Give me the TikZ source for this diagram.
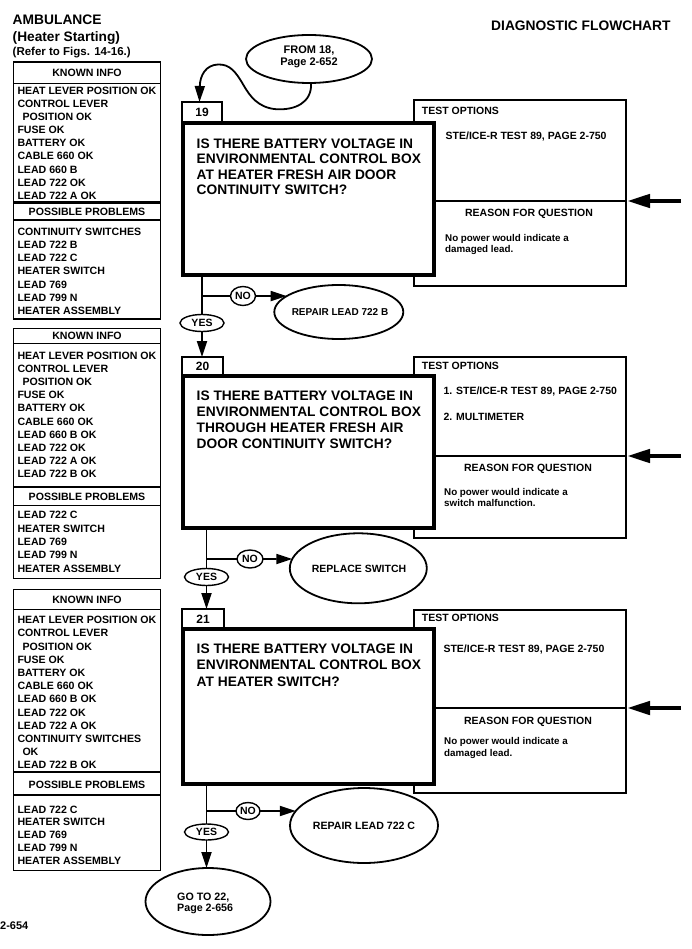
\documentclass[tikz,border=0pt]{standalone}
\usepackage{fontspec}
\setmainfont{Liberation Sans}
\usetikzlibrary{shapes.geometric,arrows.meta}
\newcommand\myfs[1]{\fontsize{#1}{#1}\selectfont}
\tikzset{
  panel/.style={line width=1.3pt},
  panelthick/.style={line width=2.4pt},
  item/.style={anchor=west, inner sep=0pt, outer sep=0pt, text height=7.6pt, text depth=0pt, font=\bfseries\myfs{10.6}},
  hdr/.style={inner sep=0pt, text height=7.6pt, text depth=0pt, font=\bfseries\myfs{10.6}},
  title/.style={anchor=west, inner sep=0pt, text depth=0pt, font=\bfseries\myfs{13.8}, text height=9.9pt},
  qline/.style={anchor=west, inner sep=0pt, text height=9.8pt, text depth=0pt, font=\bfseries\myfs{13.75}},
  topt/.style={anchor=west, inner sep=0pt, text height=7.5pt, text depth=0pt, font=\bfseries\myfs{10.5}},
  thdr/.style={inner sep=0pt, text height=7.5pt, text depth=0pt, font=\bfseries\myfs{10.5}},
  reason/.style={anchor=base west, inner sep=0pt, font=\bfseries\myfs{9.8}},
  mainbox/.style={rectangle, draw, line width=4pt, fill=white, inner sep=0pt, outer sep=0pt},
  labbox/.style={rectangle, draw, line width=1.8pt, inner sep=0pt, outer sep=0pt, text height=8.6pt, text depth=0pt, font=\bfseries\myfs{12}},
  testbox/.style={rectangle, draw, line width=1.8pt, fill=white, inner sep=0pt, outer sep=0pt},
  tline/.style={line width=1.8pt},
  oval/.style={ellipse, draw, line width=1.8pt, fill=white, inner sep=0pt, outer sep=0pt},
  tag/.style={ellipse, draw, line width=1.4pt, fill=white, inner sep=0pt, outer sep=0pt, text height=7.5pt, text depth=0pt, font=\bfseries\myfs{10.5}},
  otext/.style={inner sep=0pt, text height=7.5pt, text depth=0pt, font=\bfseries\myfs{10.5}},
  flow/.style={line width=1.8pt},
  flowarrow/.style={line width=1.8pt, -{Triangle[length=16pt,width=10pt]}},
  bigarrow/.style={line width=4.5pt, -{Triangle[length=23pt,width=13pt]}},
}
\begin{document}
\begin{tikzpicture}[x=1pt,y=-1pt]
\fill[white] (0,0) rectangle (692,949);
\useasboundingbox (0,0) rectangle (692,949);

% titles
\node[title] (tAmb) at (12.5,19.5) {AMBULANCE};
\node[title, font=\bfseries\myfs{13.7}] (tHeat) at (12.5,36.5) {(Heater Starting)};
\node[title, font=\bfseries\myfs{11.5}, text height=8.2pt] (tRef) at (12.5,51) {(Refer to Figs. 14-16.)};
\node[title] (tDiag) at (491,25.8) {DIAGNOSTIC FLOWCHART};
\node[anchor=west, inner sep=0pt, text height=7.9pt, text depth=0pt, font=\bfseries\myfs{11}] (pg) at (0,926) {2-654};

% left panel 1
\draw[panel] (13.5,62) rectangle (160.5,319);
\draw[panel] (13.5,83.3) -- (160.5,83.3);
\draw[panelthick] (13.5,202.7) -- (160.5,202.7);
\draw[panel] (13.5,220) -- (160.5,220);
\node[hdr] (k1) at (87,73) {KNOWN INFO};
\node[hdr] (p1) at (87,211.4) {POSSIBLE PROBLEMS};
\foreach \txt [count=\i] in {HEAT LEVER POSITION OK, CONTROL LEVER, \hspace*{5pt}POSITION OK, FUSE OK, BATTERY OK, CABLE 660 OK, LEAD 660 B, LEAD 722 OK, LEAD 722 A OK}
  \node[item] (k1i\i) at (17.5,{90.7+13.1*(\i-1)}) {\txt};
\foreach \txt [count=\i] in {CONTINUITY SWITCHES, LEAD 722 B, LEAD 722 C, HEATER SWITCH, LEAD 769, LEAD 799 N, HEATER ASSEMBLY}
  \node[item] (p1i\i) at (17.5,{231.7+13.15*(\i-1)}) {\txt};

% left panel 2
\draw[panel] (13.5,328.7) rectangle (160.5,578.3);
\draw[panel] (13.5,343.3) -- (160.5,343.3);
\draw[panelthick] (13.5,486.7) -- (160.5,486.7);
\draw[panel] (13.5,505.7) -- (160.5,505.7);
\node[hdr] (k2) at (87,336) {KNOWN INFO};
\node[hdr] (p2) at (87,496.2) {POSSIBLE PROBLEMS};
\foreach \txt [count=\i] in {HEAT LEVER POSITION OK, CONTROL LEVER, \hspace*{5pt}POSITION OK, FUSE OK, BATTERY OK, CABLE 660 OK, LEAD 660 B OK, LEAD 722 OK, LEAD 722 A OK, LEAD 722 B OK}
  \node[item] (k2i\i) at (17.5,{356+13.04*(\i-1)}) {\txt};
\foreach \txt [count=\i] in {LEAD 722 C, HEATER SWITCH, LEAD 769, LEAD 799 N, HEATER ASSEMBLY}
  \node[item] (p2i\i) at (17.5,{515+13.3*(\i-1)}) {\txt};

% left panel 3
\draw[panel] (13.5,589.3) rectangle (160.5,870.7);
\draw[panel] (13.5,609.3) -- (160.5,609.3);
\draw[panelthick] (13.5,771.7) -- (160.5,771.7);
\draw[panel] (13.5,795) -- (160.5,795);
\node[hdr] (k3) at (87,599.5) {KNOWN INFO};
\node[hdr] (p3) at (87,784.5) {POSSIBLE PROBLEMS};
\foreach \txt [count=\i] in {HEAT LEVER POSITION OK, CONTROL LEVER, \hspace*{5pt}POSITION OK, FUSE OK, BATTERY OK, CABLE 660 OK, LEAD 660 B OK, LEAD 722 OK, LEAD 722 A OK, CONTINUITY SWITCHES, \hspace*{5pt}OK, LEAD 722 B OK}
  \node[item] (k3i\i) at (17.5,{620+13.18*(\i-1)}) {\txt};
\foreach \txt [count=\i] in {LEAD 722 C, HEATER SWITCH, LEAD 769, LEAD 799 N, HEATER ASSEMBLY}
  \node[item] (p3i\i) at (17.5,{809.3+12.85*(\i-1)}) {\txt};

% entry oval
\node[oval, minimum width=126pt, minimum height=48pt] (from18) at (309,59) {};
\node[otext, font=\bfseries\myfs{11}, text height=7.9pt] (from18a) at (309,49.5) {FROM 18,};
\node[otext, font=\bfseries\myfs{11}, text height=7.9pt] (from18b) at (309,62) {Page 2-652};
\coordinate (in19) at (199.5,102);

% ---------- step 19
\node[testbox, minimum width=212pt, minimum height=186pt] (t19) at (520,193) {};
\node[mainbox, minimum width=251pt, minimum height=152pt] (q19) at (308.5,199) {};
\node[labbox, minimum width=40pt, minimum height=20pt] (lab19) at (202,112) {19};
\foreach \txt [count=\i] in {IS THERE BATTERY VOLTAGE IN, ENVIRONMENTAL CONTROL BOX, AT HEATER FRESH AIR DOOR, CONTINUITY SWITCH?}
  \node[qline] (q19l\i) at (196.5,{143.8+15.3*(\i-1)}) {\txt};
\node[topt] (t19a) at (421.7,111) {TEST OPTIONS};
\node[topt] (t19b) at (445.5,135.5) {STE/ICE-R TEST 89, PAGE 2-750};
\coordinate (d19) at (627,201);
\coordinate (r19) at (681,201);
\node[thdr] (t19c) at (529,212.5) {REASON FOR QUESTION};
\node[reason] (t19d) at (445,241.7) {No power would indicate a};
\node[reason] (t19e) at (445,252.7) {damaged lead.};
\node[tag, minimum width=25pt, minimum height=19pt] (no19) at (243,296) {NO};
\node[tag, minimum width=44pt, minimum height=17pt] (yes19) at (202,323) {YES};
\node[oval, minimum width=129pt, minimum height=54pt] (rep19) at (338.8,312) {};
\node[otext, font=\bfseries\myfs{10}, text height=7.2pt] (rep19t) at (340,311.7) {REPAIR LEAD 722 B};
\coordinate (j19) at (202,296);

% ---------- step 20
\node[testbox, minimum width=212pt, minimum height=181pt] (t20) at (520,447.5) {};
\node[mainbox, minimum width=251pt, minimum height=152pt] (q20) at (308.5,452) {};
\node[labbox, minimum width=41pt, minimum height=19pt] (lab20) at (202.5,366.5) {20};
\foreach \txt [count=\i] in {IS THERE BATTERY VOLTAGE IN, ENVIRONMENTAL CONTROL BOX, THROUGH HEATER FRESH AIR, DOOR CONTINUITY SWITCH?}
  \node[qline] (q20l\i) at (196.5,{396+15.8*(\i-1)}) {\txt};
\node[topt] (t20a) at (421.7,365.5) {TEST OPTIONS};
\node[topt] (t20b) at (443.3,391) {1. STE/ICE-R TEST 89, PAGE 2-750};
\node[topt] (t20b2) at (443.3,417) {2. MULTIMETER};
\coordinate (d20) at (627,456);
\coordinate (r20) at (681,456);
\node[thdr] (t20c) at (528,467.5) {REASON FOR QUESTION};
\node[reason] (t20d) at (444,495) {No power would indicate a};
\node[reason] (t20e) at (444,506.7) {switch malfunction.};
\node[tag, minimum width=26pt, minimum height=18pt] (no20) at (250,559) {NO};
\node[tag, minimum width=44pt, minimum height=17pt] (yes20) at (206.5,577) {YES};
\node[oval, minimum width=137pt, minimum height=70pt] (rep20) at (358.3,568.3) {};
\node[otext] (rep20t) at (359,568.8) {REPLACE SWITCH};
\coordinate (j20) at (206.5,559);

% ---------- step 21
\node[testbox, minimum width=212pt, minimum height=183pt] (t21) at (520,701.5) {};
\node[mainbox, minimum width=251pt, minimum height=155pt] (q21) at (308.5,706.5) {};
\node[labbox, minimum width=42pt, minimum height=20pt] (lab21) at (203,619) {21};
\foreach \txt [count=\i] in {IS THERE BATTERY VOLTAGE IN, ENVIRONMENTAL CONTROL BOX, AT HEATER SWITCH?}
  \node[qline] (q21l\i) at (196.5,{648.3+16.5*(\i-1)}) {\txt};
\node[topt] (t21a) at (421.7,617.5) {TEST OPTIONS};
\node[topt] (t21b) at (443.3,649) {STE/ICE-R TEST 89, PAGE 2-750};
\coordinate (d21) at (627,708);
\coordinate (r21) at (681,708);
\node[thdr] (t21c) at (528,720.8) {REASON FOR QUESTION};
\node[reason] (t21d) at (444,744) {No power would indicate a};
\node[reason] (t21e) at (444,756) {damaged lead.};
\node[tag, minimum width=24pt, minimum height=17pt] (no21) at (248,811) {NO};
\node[tag, minimum width=44pt, minimum height=16pt] (yes21) at (206.5,832) {YES};
\node[oval, minimum width=148pt, minimum height=75pt] (rep21) at (364,825.5) {};
\node[otext, font=\bfseries\myfs{10.6}] (rep21t) at (364,825.8) {REPAIR LEAD 722 C};
\coordinate (j21) at (206.5,811);
\node[oval, minimum width=125pt, minimum height=67pt] (go22) at (208,901.5) {};
\node[otext, anchor=west, font=\bfseries\myfs{10.7}, text height=7.7pt] (go22a) at (177,896.7) {GO TO 22,};
\node[otext, anchor=west, font=\bfseries\myfs{10.7}, text height=7.7pt] (go22b) at (177,908) {Page 2-656};

% ---------- connectors
\draw[flowarrow] (from18.-85) .. controls (312,103) and (295,110) .. (277,109.3)
  .. controls (258,108) and (250,96) .. (244,86)
  .. controls (236,72) and (230,64) .. (218,64.5)
  .. controls (206,65) and (200,75) .. (in19);

\draw[tline] (q19.east |- d19) -- (d19);
\draw[bigarrow] (r19) -- (d19);
\draw[flow] (yes19 |- q19.south) -- (yes19);
\draw[flow] (j19) -- (no19);
\draw[flowarrow] (no19) -- (rep19.163);
\draw[flowarrow] (yes19) -- (yes19 |- lab20.north);

\draw[tline] (q20.east |- d20) -- (d20);
\draw[bigarrow] (r20) -- (d20);
\draw[flow] (yes20 |- q20.south) -- (yes20);
\draw[flow] (j20) -- (no20);
\draw[flowarrow] (no20) -- (rep20.172);
\draw[flowarrow] (yes20) -- (yes20 |- lab21.north);

\draw[tline] (q21.east |- d21) -- (d21);
\draw[bigarrow] (r21) -- (d21);
\draw[flow] (yes21 |- q21.south) -- (yes21);
\draw[flow] (j21) -- (no21);
\draw[flowarrow] (no21) -- (rep21.168);
\draw[flowarrow] (yes21) -- (yes21 |- go22.north);
\end{tikzpicture}
\end{document}
